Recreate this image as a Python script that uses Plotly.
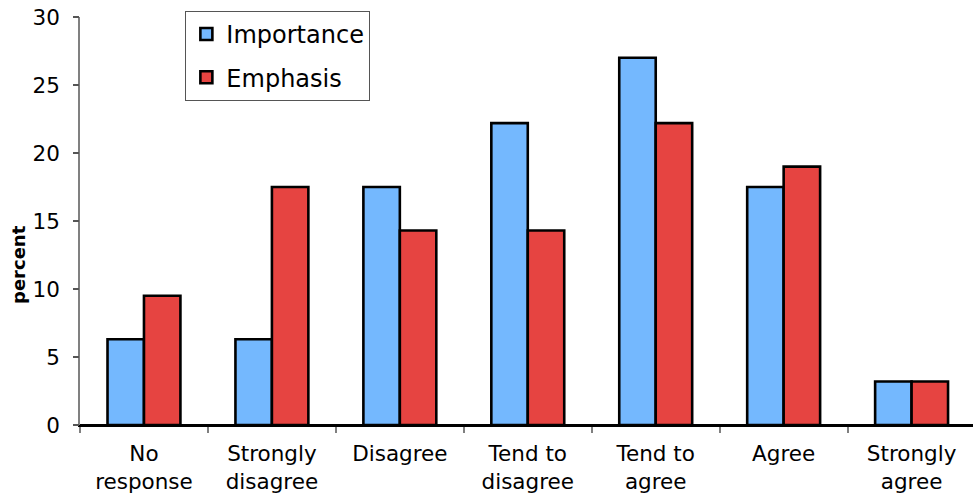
import plotly.graph_objects as go

categories = ["No<br>response", "Strongly<br>disagree", "Disagree", "Tend to<br>disagree",
              "Tend to<br>agree", "Agree", "Strongly<br>agree"]
importance = [6.3, 6.3, 17.5, 22.2, 27.0, 17.5, 3.2]
emphasis = [9.5, 17.5, 14.3, 14.3, 22.2, 19.0, 3.2]

FONT = "DejaVu Sans, Verdana, sans-serif"

fig = go.Figure()
fig.add_trace(go.Bar(x=categories, y=importance, name="Importance",
                     marker=dict(color="#74B8FE", line=dict(color="black", width=2.6)),
                     legendgroup="a"))
fig.add_trace(go.Bar(x=categories, y=emphasis, name="Emphasis",
                     marker=dict(color="#E64441", line=dict(color="black", width=2.6)),
                     legendgroup="b"))
# invisible helper trace so the tick-only overlay axis is drawn
fig.add_trace(go.Scatter(x=categories, y=importance, yaxis="y2", mode="markers",
                         marker=dict(opacity=0), showlegend=False, hoverinfo="skip"))

plot_w = 973 - 80
plot_h = 494 - 17 - 69

fig.update_layout(
    width=973, height=494,
    margin=dict(l=80, r=0, t=17, b=69),
    paper_bgcolor="white", plot_bgcolor="white",
    barmode="group", bargap=0.43, bargroupgap=0,
    font=dict(family=FONT, size=21, color="black"),
    showlegend=True,
    legend=dict(x=0.118, y=1.015, xanchor="left", yanchor="top",
                bordercolor="#555555", borderwidth=1, bgcolor="white",
                font=dict(size=24), tracegroupgap=9, itemwidth=30),
    xaxis=dict(range=[-0.5, 6.48], showline=True, linecolor="black", linewidth=1.5,
               ticks="outside", tickson="boundaries", tickcolor="#808080",
               ticklen=6, tickwidth=1.5, showgrid=False, tickfont=dict(size=21.5),
               ticklabelstandoff=8),
    yaxis=dict(range=[0, 30], dtick=5, showline=True, linecolor="#808080", linewidth=1.5,
               ticks="outside", tickcolor="rgba(0,0,0,0)", ticklen=14, tickwidth=1.5,
               showgrid=False, zeroline=True, zerolinecolor="black", zerolinewidth=1.5,
               tickfont=dict(size=21.5)),
    yaxis2=dict(range=[0, 30], dtick=5, overlaying="y", anchor="x", side="left",
                showline=False, ticks="outside", tickcolor="#555555", ticklen=6,
                tickwidth=1.5, showticklabels=False, showgrid=False, zeroline=False),
    annotations=[dict(text="<b>percent</b>", x=(18 - 80) / plot_w,
                      y=(494 - 69 - 265) / plot_h, xref="paper", yref="paper",
                      xanchor="center", yanchor="middle",
                      showarrow=False, textangle=-90, font=dict(size=18))],
)

fig.write_html("out.html")
